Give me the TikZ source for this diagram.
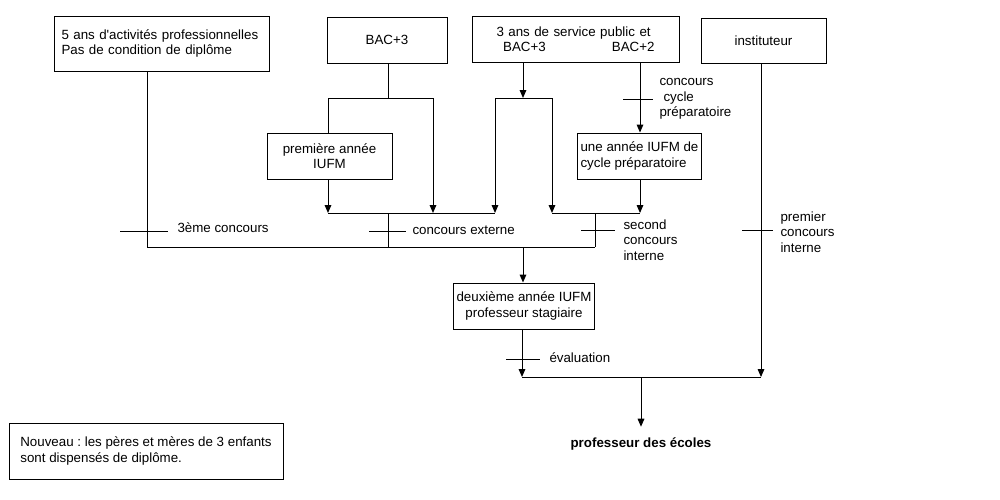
\documentclass[tikz,border=0pt]{standalone}
\usepackage{fontspec}
\setmainfont{Liberation Sans}
\usetikzlibrary{arrows.meta}
\frenchspacing

\tikzset{
  box/.style={draw,line width=0.75pt,inner sep=2pt,font=\fontsize{10}{11.6}\selectfont},
  tag/.style={inner sep=0pt,font=\fontsize{10}{11.6}\selectfont,align=left},
  arr/.style={-{Triangle[width=5pt,length=6pt]}},
}

\begin{document}
\begin{tikzpicture}[x=0.75pt,y=-0.75pt,line width=0.75pt]
  \useasboundingbox (0,0) rectangle (1000,500);

  \node[box,minimum width=161.25pt,minimum height=41.25pt,text width=150pt,align=left] (ans5) at (161.5,43.5)
    {5 ans d\textquotesingle activités professionnelles\\Pas de condition de diplôme};
  \node[box,minimum width=90pt,minimum height=34.5pt] (bac3) at (387,40) {BAC+3};
  \node[box,minimum width=155.25pt,minimum height=34.5pt,text width=118.5pt,align=left] (serv) at (575.5,39)
    {3 ans de service public et\\\hspace*{5pt}BAC+3\hfill BAC+2\hspace*{1pt}};
  \node[box,minimum width=93.75pt,minimum height=33.75pt] (inst) at (763.5,40.5) {instituteur};
  \node[box,minimum width=93.75pt,minimum height=34.5pt,align=center] (iufm1) at (329.5,156)
    {première année\\IUFM};
  \node[box,minimum width=92.25pt,minimum height=34.5pt,align=left] (cycle) at (639.5,156)
    {une année IUFM de\\cycle préparatoire};
  \node[box,minimum width=105pt,minimum height=34.5pt,align=center] (iufm2) at (524,306)
    {deuxième année IUFM\\professeur stagiaire};
  \node[box,minimum width=205.5pt,minimum height=42pt,align=left] (note) at (146,451)
    {Nouveau : les pères et mères de 3 enfants\\sont dispensés de diplôme.};
  \node[tag,anchor=base,font=\fontsize{10}{12}\selectfont\bfseries] (pe) at (641,447) {professeur des écoles};

  \coordinate (c1l) at (328,98);
  \coordinate (c1m) at (388,98);
  \coordinate (c1r) at (433,98);
  \coordinate (c2l) at (495,98);
  \coordinate (c2m) at (523,98);
  \coordinate (c2r) at (552,98);
  \coordinate (j1l) at (328,213);
  \coordinate (j1a) at (433,213);
  \coordinate (j1b) at (495,213);
  \coordinate (j1m) at (388,213);
  \coordinate (j2l) at (552,213);
  \coordinate (j2m) at (595,213);
  \coordinate (j2r) at (640,213);
  \coordinate (b1) at (147,247);
  \coordinate (b2) at (388,247);
  \coordinate (b3) at (523,247);
  \coordinate (b4) at (595,247);
  \coordinate (e1) at (522,377);
  \coordinate (e2) at (641,377);
  \coordinate (e3) at (761,377);

  \draw (bac3.south -| c1m) -- (c1m);
  \draw (c1l) -- (c1r);
  \draw (c1l) -- (iufm1.north -| c1l);
  \draw[arr] (iufm1.south -| j1l) -- (j1l);
  \draw[arr] (c1r) -- (j1a);
  \draw (j1l) -- (j1b);
  \draw[arr] (serv.south -| c2m) -- (c2m);
  \draw (c2l) -- (c2r);
  \draw[arr] (c2l) -- (j1b);
  \draw[arr] (c2r) -- (j2l);
  \draw[arr] (serv.south -| j2r) -- (cycle.north -| j2r);
  \draw[arr] (cycle.south -| j2r) -- (j2r);
  \draw (j2l) -- (j2r);
  \draw (j1m) -- (b2);
  \draw (j2m) -- (b4);
  \draw (ans5.south -| b1) -- (b1) -- (b4);
  \draw[arr] (b3) -- (iufm2.north -| b3);
  \draw[arr] (iufm2.south -| e1) -- (e1);
  \draw (e1) -- (e3);
  \draw[arr] (inst.south -| e3) -- (e3);
  \draw[arr] (e2) -- ([yshift=7.5pt]pe.north);

  \draw (120,231) -- (168,231);
  \draw (369,231) -- (406,231);
  \draw (581,230) -- (615,230);
  \draw (623,99) -- (653,99);
  \draw (742,230) -- (773,230);
  \draw (506,359) -- (540,359);
  \node[tag,anchor=west] (t3e) at (177,228) {3ème concours};
  \node[tag,anchor=west] (tce) at (412,230) {concours externe};
  \node[tag,anchor=west] (tsci) at (623,240) {second\\concours\\interne};
  \node[tag,anchor=west] (tcp) at (659,99) {concours\\\hspace*{3pt}cycle\\préparatoire};
  \node[tag,anchor=west] (tpci) at (780,232) {premier\\concours\\interne};
  \node[tag,anchor=west] (tev) at (549,358) {évaluation};
\end{tikzpicture}
\end{document}
